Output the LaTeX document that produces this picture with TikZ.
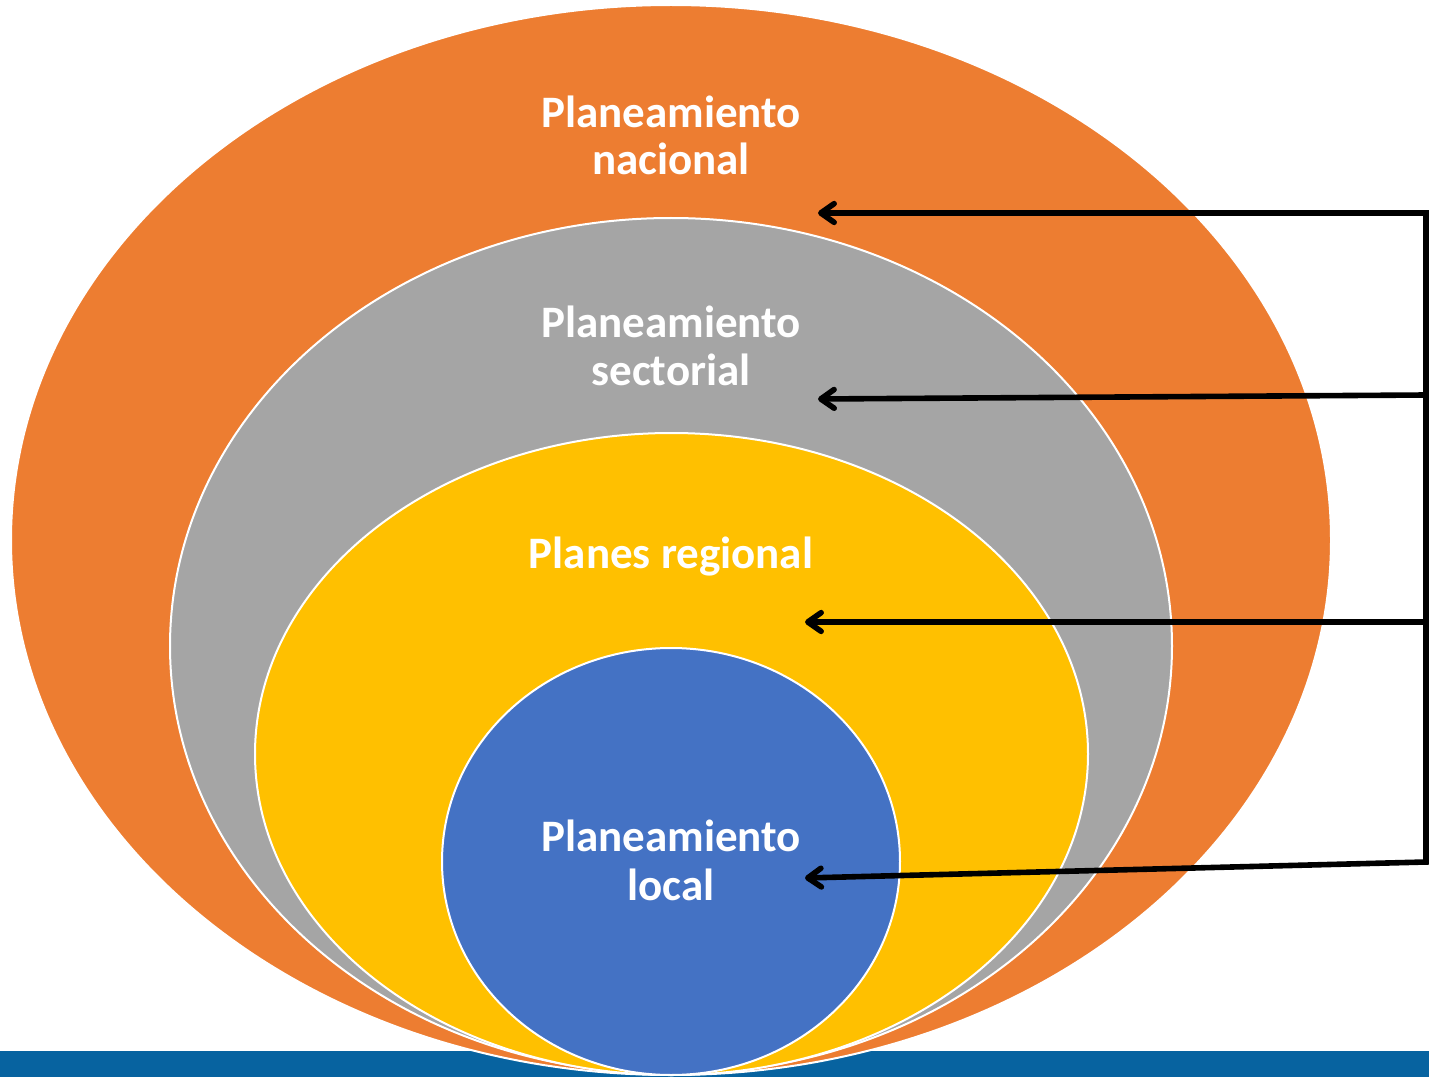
\documentclass[tikz,border=0pt]{standalone}
\usepackage{fontspec}
\setmainfont{Carlito}
\usetikzlibrary{shapes.geometric,arrows.meta}
\definecolor{orng}{HTML}{ED7D31}
\definecolor{gry}{HTML}{A5A5A5}
\definecolor{ylw}{HTML}{FFC000}
\definecolor{blu}{HTML}{4472C4}
\definecolor{barblue}{HTML}{0763A0}
\begin{document}
\begin{tikzpicture}[x=0.75pt,y=-0.75pt,
  ring/.style={ellipse, draw=white, line width=1.5pt, inner sep=0pt, outer sep=0pt},
  lbl/.style={anchor=base, inner sep=0pt, text=white, font=\bfseries\fontsize{33.75}{36}\selectfont},
  conn/.style={line width=4.2pt, draw=black, line join=miter},
  barb/.tip={Straight Barb[length=10pt, width=14pt, round]}]
\useasboundingbox (0,0) rectangle (1429,1077);
\fill[barblue] (0,1051) rectangle (1429,1077);
\node[ring, fill=orng, minimum width=990pt, minimum height=802.5pt] (nac) at (671,540) {};
\node[ring, fill=gry, minimum width=751.5pt, minimum height=642pt] (sec) at (671,646) {};
\node[ring, fill=ylw, minimum width=624.75pt, minimum height=481.5pt] (reg) at (671.5,754) {};
\node[ring, fill=blu, minimum width=343.5pt, minimum height=320.25pt] (loc) at (671,861.5) {};
\node[lbl] (nac1) at (671,128) {Planeamiento};
\node[lbl] (nac2) at (671,175) {nacional};
\node[lbl] (sec1) at (671,337) {Planeamiento};
\node[lbl] (sec2) at (671,385) {sectorial};
\node[lbl] (reg1) at (671,568) {Planes regional};
\node[lbl] (loc1) at (671,851) {Planeamiento};
\node[lbl] (loc2) at (671,900) {local};
\coordinate (t1) at (818,213);
\coordinate (t2) at (818,399);
\coordinate (t3) at (805,622);
\coordinate (t4) at (805,878);
\coordinate (r1) at (1426,213);
\coordinate (r2) at (1426,395);
\coordinate (r3) at (1426,622);
\coordinate (r4) at (1426,862);
\draw[conn, {barb}-{barb}] (t1) -- (r1) -- (r4) -- (t4);
\draw[conn, -{barb}] (r2) -- (t2);
\draw[conn, -{barb}] (r3) -- (t3);
\end{tikzpicture}
\end{document}
